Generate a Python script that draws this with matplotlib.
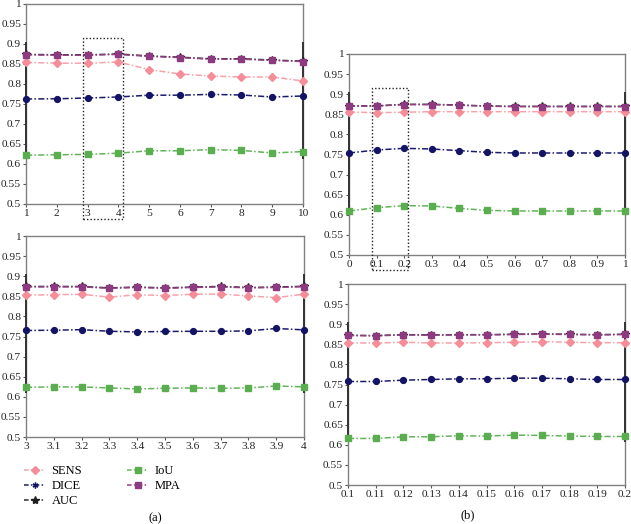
import numpy as np
import matplotlib
matplotlib.use('Agg')
import matplotlib.pyplot as plt
from matplotlib.lines import Line2D
from matplotlib.patches import Rectangle

plt.rcParams['font.family'] = ['Liberation Serif', 'DejaVu Serif']

# (a) top: x = 1..10
x_a1 = [1, 2, 3, 4, 5, 6, 7, 8, 9, 10]
sens_a1 = [0.854, 0.852, 0.852, 0.855, 0.836, 0.825, 0.820, 0.8175, 0.8175, 0.8075]
dice_a1 = [0.7625, 0.763, 0.765, 0.7675, 0.772, 0.772, 0.774, 0.7725, 0.7675, 0.770]
auc_a1 = [0.874, 0.873, 0.873, 0.875, 0.870, 0.867, 0.863, 0.863, 0.860, 0.857]
iou_a1 = [0.622, 0.623, 0.624, 0.627, 0.633, 0.633, 0.636, 0.634, 0.6275, 0.631]
mpa_a1 = [0.873, 0.872, 0.872, 0.874, 0.869, 0.866, 0.862, 0.862, 0.859, 0.856]

# (a) bottom: x = 3..4
x_a2 = [3, 3.1, 3.2, 3.3, 3.4, 3.5, 3.6, 3.7, 3.8, 3.9, 4]
sens_a2 = [0.853, 0.854, 0.855, 0.848, 0.854, 0.852, 0.855, 0.8555, 0.851, 0.8465, 0.8555]
dice_a2 = [0.765, 0.7657, 0.767, 0.763, 0.7615, 0.7625, 0.763, 0.763, 0.764, 0.770, 0.7665]
auc_a2 = [0.8745, 0.8745, 0.8745, 0.871, 0.873, 0.871, 0.873, 0.8745, 0.872, 0.873, 0.875]
iou_a2 = [0.6238, 0.6246, 0.6246, 0.622, 0.6196, 0.6213, 0.622, 0.6213, 0.622, 0.627, 0.6246]
mpa_a2 = [0.8735, 0.8735, 0.8735, 0.870, 0.872, 0.870, 0.872, 0.8735, 0.871, 0.872, 0.874]

# (b) top: x = 0..1
x_b1 = [0, 0.1, 0.2, 0.3, 0.4, 0.5, 0.6, 0.7, 0.8, 0.9, 1]
sens_b1 = [0.8557, 0.854, 0.855, 0.8565, 0.8565, 0.8565, 0.8565, 0.8565, 0.8565, 0.8565, 0.8565]
dice_b1 = [0.7537, 0.7611, 0.7653, 0.7636, 0.7595, 0.7553, 0.7537, 0.7537, 0.7537, 0.7537, 0.7537]
auc_b1 = [0.8706, 0.871, 0.8747, 0.8747, 0.873, 0.8706, 0.8697, 0.8697, 0.8697, 0.8697, 0.8697]
iou_b1 = [0.6094, 0.6177, 0.6227, 0.6219, 0.616, 0.611, 0.6094, 0.6094, 0.6094, 0.6094, 0.6094]
mpa_b1 = [0.8700, 0.8705, 0.8740, 0.8740, 0.8725, 0.870, 0.869, 0.869, 0.869, 0.869, 0.869]

# (b) bottom: x = 0.1..0.2
x_b2 = [0.1, 0.11, 0.12, 0.13, 0.14, 0.15, 0.16, 0.17, 0.18, 0.19, 0.2]
sens_b2 = [0.8533, 0.8533, 0.855, 0.8533, 0.8533, 0.854, 0.855, 0.8567, 0.855, 0.854, 0.854]
dice_b2 = [0.7575, 0.7575, 0.7608, 0.7625, 0.7642, 0.7642, 0.7658, 0.7658, 0.7642, 0.7625, 0.7625]
auc_b2 = [0.8725, 0.8717, 0.874, 0.8733, 0.874, 0.874, 0.875, 0.8758, 0.875, 0.874, 0.875]
iou_b2 = [0.6158, 0.6158, 0.620, 0.620, 0.6225, 0.6217, 0.6242, 0.6233, 0.6217, 0.6208, 0.6208]
mpa_b2 = [0.872, 0.871, 0.8735, 0.8728, 0.8735, 0.8735, 0.8745, 0.875, 0.8745, 0.8735, 0.8745]

labels = ['SENS', 'DICE', 'AUC', 'IoU', 'MPA']
colors = ['#F7A1A9', '#1B1B6E', '#2A2A2A', '#62B45A', '#963F86']
mcolors = ['#F58E98', '#141466', '#1E1E1E', '#5AAE50', '#8E3A80']
markers = ['D', 'o', '*', 's', 's']
msizes = [3.6, 4.2, 6.0, 3.8, 5.0]

fig = plt.figure(figsize=(6.31, 5.24), dpi=100)
positions = [
    [0.0412, 0.6107, 0.439, 0.3817],
    [0.0412, 0.166, 0.4406, 0.3836],
    [0.553, 0.5134, 0.4374, 0.3836],
    [0.5515, 0.0744, 0.439, 0.3836],
]
panels = [
    (x_a1, [sens_a1, dice_a1, auc_a1, iou_a1, mpa_a1], x_a1),
    (x_a2, [sens_a2, dice_a2, auc_a2, iou_a2, mpa_a2], x_a2),
    (x_b1, [sens_b1, dice_b1, auc_b1, iou_b1, mpa_b1], x_b1),
    (x_b2, [sens_b2, dice_b2, auc_b2, iou_b2, mpa_b2], x_b2),
]

axes = []
for pos, (x, series, xt) in zip(positions, panels):
    ax = fig.add_axes(pos)
    axes.append(ax)
    # draw order: SENS, IoU, DICE, MPA, AUC (AUC on top of MPA)
    for i in [0, 3, 1, 4, 2]:
        ax.plot(x, series[i], color=colors[i], lw=1.1, ls=(0, (4, 1.5, 1, 1.5)),
                marker=markers[i], ms=msizes[i], mfc=mcolors[i], mec=mcolors[i],
                clip_on=False, zorder=3 + i)
    allv = np.concatenate([np.array(s) for s in series])
    ax.vlines([x[0], x[-1]], allv.min() - 0.01, allv.max() + 0.03,
              color='#333333', lw=1.4, zorder=2.6, clip_on=False)
    ax.set_xlim(x[0], x[-1])
    ax.set_ylim(0.5, 1)
    ax.set_yticks(np.arange(0.5, 1.001, 0.05))
    ax.set_yticklabels([f'{v:g}' for v in np.round(np.arange(0.5, 1.001, 0.05), 2)])
    ax.set_xticks(xt)
    ax.set_xticklabels([f'{v:g}' for v in xt])
    for s in ax.spines.values():
        s.set_color('#808080')
        s.set_linewidth(1.0)
    ax.tick_params(direction='out', length=2.5, width=0.8, color='#555555',
                   labelsize=8.2, pad=1.0, labelcolor='#222222')

# dotted boxes marking the zoomed range shown below
for ax, xr in [(axes[0], x_a2), (axes[2], x_b2)]:
    span = xr[-1] - xr[0]
    rect = Rectangle((xr[0] - 0.15 * span, 0.463), 1.3 * span, 0.453,
                     fill=False, ls=(0, (1, 1.5)), lw=1.0, ec='#222222',
                     clip_on=False, zorder=10)
    ax.add_patch(rect)

legend_marker = ['D', (6, 2, 0), '*', 's', 's']
handles = [Line2D([], [], color=colors[i], lw=1.1, ls=(0, (3, 1.5, 1, 1.5)),
                  marker=legend_marker[i], ms=msizes[i],
                  mfc=mcolors[i], mec=mcolors[i])
           for i in range(5)]
fig.legend(handles, labels, loc='upper left', bbox_to_anchor=(0.03, 0.122),
           ncol=2, frameon=False, fontsize=9, handlelength=1.7,
           handletextpad=0.5, columnspacing=3.6, labelspacing=0.25,
           borderaxespad=0)

fig.text(155 / 631, 1 - 518 / 524, '(a)', ha='center', va='center', fontsize=9)
fig.text(468 / 631, 1 - 515 / 524, '(b)', ha='center', va='center', fontsize=9)

fig.savefig('out.png', dpi=100)
